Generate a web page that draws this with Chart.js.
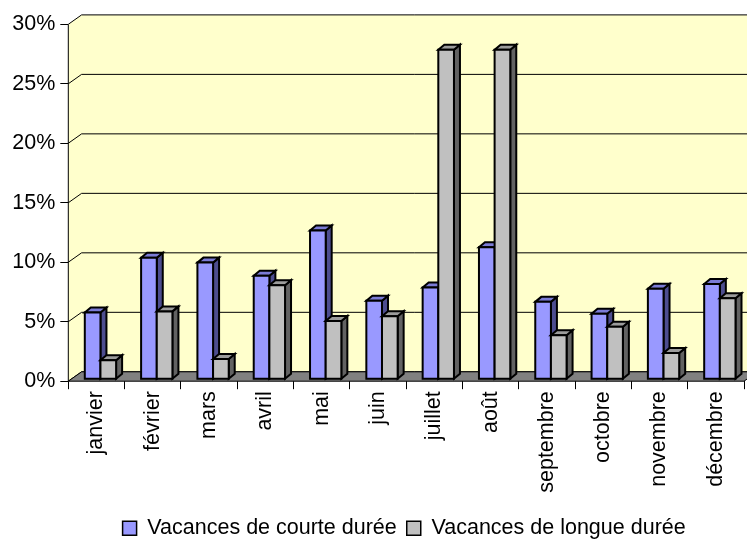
<!DOCTYPE html>
<html><head><meta charset="utf-8">
<script src="https://cdn.jsdelivr.net/npm/chart.js@4"></script>
<style>html,body{margin:0;padding:0;background:#fff;overflow:hidden}</style>
</head><body>
<canvas id="c" width="747" height="540"></canvas>
<script>
const months = ['janvier','février','mars','avril','mai','juin','juillet','août','septembre','octobre','novembre','décembre'];
const seriesNames = ['Vacances de courte durée','Vacances de longue durée'];
const courte = [5.6, 10.2, 9.8, 8.7, 12.5, 6.6, 7.7, 11.1, 6.5, 5.5, 7.6, 8.0];
const longue = [1.6, 5.7, 1.7, 7.9, 4.9, 5.3, 27.7, 27.7, 3.7, 4.4, 2.2, 6.8];
const yTicks = [0, 5, 10, 15, 20, 25, 30];

const FONT = '"Liberation Sans", Arial, sans-serif';
const FS = 21.5;
const WALL = {dx: 13.3, dy: -9.4};
const BAR = {ox: 4, oy: -2, dx: 6, dy: -5};
const faces = [
  {front: '#9999FF', top: '#7B7BD6', side: '#4D4D8F'},
  {front: '#C0C0C0', top: '#9C9C9C', side: '#626262'}
];

function poly(ctx, pts, fill) {
  ctx.beginPath();
  ctx.moveTo(pts[0][0], pts[0][1]);
  for (let i = 1; i < pts.length; i++) ctx.lineTo(pts[i][0], pts[i][1]);
  ctx.closePath();
  ctx.fillStyle = fill;
  ctx.fill();
  ctx.stroke();
}

const excel3d = {
  id: 'excel3d',
  afterLayout(chart) {
    if (chart.legend) {
      chart.legend.top += 9; chart.legend.bottom += 9;
      chart.legend.left -= 2; chart.legend.right -= 2;
    }
  },
  beforeDatasetsDraw(chart) {
    const ctx = chart.ctx;
    const {left: L, right: R, top: T, bottom: B} = chart.chartArea;
    const ys = chart.scales.y;
    const dx = WALL.dx, dy = WALL.dy;
    ctx.save();
    // back + left walls
    ctx.fillStyle = '#FFFFCC';
    ctx.beginPath();
    ctx.moveTo(L, T); ctx.lineTo(L + dx, T + dy); ctx.lineTo(R + dx, T + dy);
    ctx.lineTo(R + dx, B + dy); ctx.lineTo(L, B); ctx.closePath(); ctx.fill();
    // gridlines
    ctx.strokeStyle = '#000'; ctx.lineWidth = 1;
    ys.ticks.forEach(t => {
      const py = ys.getPixelForValue(t.value);
      ctx.beginPath();
      ctx.moveTo(L, py); ctx.lineTo(L + dx, py + dy); ctx.lineTo(R + dx, py + dy);
      ctx.stroke();
    });
    // floor
    ctx.lineWidth = 1;
    poly(ctx, [[L, B], [L + dx, B + dy], [R + dx, B + dy], [R, B]], '#808080');
    // vertical axis line
    ctx.beginPath(); ctx.moveTo(L, T); ctx.lineTo(L, B); ctx.stroke();
    // bars
    ctx.lineWidth = 2; ctx.lineJoin = 'miter'; ctx.strokeStyle = '#000';
    const n = chart.data.labels.length;
    for (let i = 0; i < n; i++) {
      for (let d = 0; d < chart.data.datasets.length; d++) {
        const el = chart.getDatasetMeta(d).data[i];
        const x0 = el.x - el.width / 2 + BAR.ox, x1 = el.x + el.width / 2 + BAR.ox;
        const yt = el.y + BAR.oy, yb = el.base + BAR.oy;
        const f = faces[d];
        poly(ctx, [[x1, yt], [x1 + BAR.dx, yt + BAR.dy], [x1 + BAR.dx, yb + BAR.dy], [x1, yb]], f.side);
        poly(ctx, [[x0, yt], [x1, yt], [x1 + BAR.dx, yt + BAR.dy], [x0 + BAR.dx, yt + BAR.dy]], f.top);
        poly(ctx, [[x0, yt], [x1, yt], [x1, yb], [x0, yb]], f.front);
      }
    }
    ctx.restore();
    return false;
  }
};

new Chart(document.getElementById('c'), {
  type: 'bar',
  data: {
    labels: months,
    datasets: [
      {label: seriesNames[0], data: courte, backgroundColor: faces[0].front, borderColor: '#000', borderWidth: 1.5},
      {label: seriesNames[1], data: longue, backgroundColor: faces[1].front, borderColor: '#000', borderWidth: 1.5}
    ]
  },
  options: {
    responsive: false,
    animation: false,
    devicePixelRatio: 1,
    layout: {padding: {top: 24.3, right: 3, left: 0, bottom: 0}},
    datasets: {bar: {categoryPercentage: 0.556, barPercentage: 1}},
    plugins: {
      tooltip: {enabled: false},
      legend: {
        position: 'bottom',
        fullSize: false,
        labels: {color: '#000', font: {family: FONT, size: FS}, boxWidth: 14, boxHeight: 14, padding: 10}
      }
    },
    scales: {
      x: {
        grid: {display: true, drawOnChartArea: false, drawTicks: true, tickLength: 8, color: '#000', offset: true},
        border: {display: false},
        ticks: {color: '#000', font: {family: FONT, size: FS}, minRotation: 90, maxRotation: 90, autoSkip: false, padding: 2},
        afterFit: s => { s.height = 117.3; }
      },
      y: {
        min: 0, max: 30,
        grid: {display: true, drawOnChartArea: false, drawTicks: true, tickLength: 8, color: '#000'},
        border: {display: false},
        afterBuildTicks: s => { s.ticks = yTicks.map(v => ({value: v})); },
        ticks: {color: '#000', font: {family: FONT, size: FS}, padding: 5, callback: v => v + '%'},
        afterFit: s => { s.width = 68.3; }
      }
    }
  },
  plugins: [excel3d]
});
</script>
</body></html>
